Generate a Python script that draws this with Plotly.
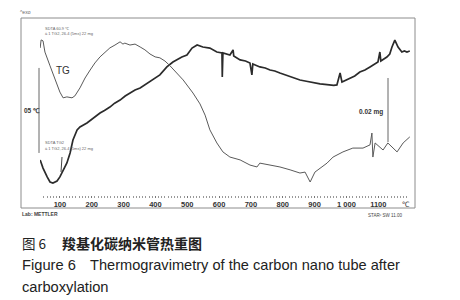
import plotly.graph_objects as go

# ---- data (temperature in degC) ----
sdta_T = [38, 47, 60, 69, 78, 91, 100, 110, 122, 132, 141, 154, 163, 185, 204, 226, 240, 257, 272, 289,
          305, 320, 336, 352, 367, 383, 398, 414, 436, 455, 483, 499, 515, 531, 549, 571, 593, 609, 610,
          612, 634, 644, 646, 666, 683, 697, 703, 706, 728, 745, 760, 775, 791, 808, 823, 838, 854, 870,
          885, 900, 917, 932, 948, 960, 970, 980, 986, 1000, 1011, 1026, 1042, 1058, 1074, 1090, 1099,
          1105, 1108, 1127, 1136, 1143, 1152, 1162, 1174, 1182, 1190, 1199]
sdta_v = [0.224, 0.176, 0.124, 0.094, 0.088, 0.100, 0.124, 0.165, 0.206, 0.265, 0.341, 0.400, 0.418,
          0.441, 0.471, 0.500, 0.515, 0.535, 0.558, 0.576, 0.600, 0.618, 0.635, 0.647, 0.665, 0.682,
          0.700, 0.724, 0.771, 0.800, 0.829, 0.841, 0.882, 0.900, 0.888, 0.882, 0.859, 0.853, 0.712,
          0.853, 0.841, 0.871, 0.835, 0.812, 0.806, 0.794, 0.724, 0.788, 0.771, 0.765, 0.753, 0.747,
          0.735, 0.724, 0.712, 0.706, 0.694, 0.688, 0.682, 0.676, 0.671, 0.668, 0.665, 0.662, 0.665,
          0.735, 0.682, 0.694, 0.706, 0.718, 0.741, 0.753, 0.771, 0.788, 0.800, 0.859, 0.806, 0.829,
          0.847, 0.888, 0.929, 0.888, 0.859, 0.865, 0.859, 0.865]

tg_T = [38, 41, 47, 53, 69, 85, 100, 110, 122, 138, 147, 163, 179, 195, 210, 226, 242, 257, 273, 289,
        298, 304, 320, 336, 352, 367, 383, 399, 414, 430, 446, 462, 487, 518, 540, 556, 571, 593, 612,
        634, 666, 697, 719, 728, 760, 791, 823, 854, 870, 886, 901, 917, 939, 958, 989, 1020, 1052,
        1074, 1080, 1083, 1090, 1115, 1130, 1159, 1178, 1199]
tg_v = [0.0469, 0.0494, 0.0491, 0.0456, 0.0413, 0.0369, 0.0331, 0.0313, 0.0316, 0.0313, 0.0319,
        0.0344, 0.0375, 0.0400, 0.0422, 0.0441, 0.0456, 0.0469, 0.0478, 0.0488, 0.0481, 0.0484,
        0.0478, 0.0481, 0.0472, 0.0463, 0.0450, 0.0441, 0.0438, 0.0428, 0.0413, 0.0397, 0.0369,
        0.0328, 0.0294, 0.0259, 0.0213, 0.0172, 0.0144, 0.0128, 0.0119, 0.0103, 0.0097, 0.0109,
        0.0103, 0.0097, 0.0088, 0.0078, 0.0081, 0.0050, 0.0081, 0.0094, 0.0109, 0.0128, 0.0144,
        0.0156, 0.0156, 0.0166, 0.0203, 0.0128, 0.0172, 0.0150, 0.0172, 0.0144, 0.0172, 0.0191]

tick_vals = [100, 200, 300, 400, 500, 600, 700, 800, 900, 1000, 1100]
tick_text = ["100", "200", "300", "400", "500", "600", "700", "800", "900", "1 000", "1100"]

sdta_bar = [0.265, 0.765]   # 0.5 degC scale bar
tg_bar = [0.0175, 0.0375]   # 0.02 mg scale bar

# ---- layout geometry ----
W, H = 460, 300
L, R, T, B = 40, 50, 18, 102


def px(x):
    return (x - L) / (W - L - R)


def py(y):
    return (H - B - y) / (H - T - B)


fig = go.Figure()
fig.add_trace(go.Scatter(x=sdta_T, y=sdta_v, mode="lines", yaxis="y",
                         line=dict(color="#2b2b2b", width=1.7), showlegend=False))
fig.add_trace(go.Scatter(x=tg_T, y=tg_v, mode="lines", yaxis="y2",
                         line=dict(color="#5a5a5a", width=1.0), showlegend=False))

ann = []


def text(s, x, y, size, anchor="left", color="#333", bold=False, fam="Liberation Sans"):
    ann.append(dict(text=("<b>%s</b>" % s) if bold else s, x=px(x), y=py(y), xref="paper", yref="paper",
                    xanchor=anchor, yanchor="middle", showarrow=False,
                    font=dict(size=size, color=color, family=fam)))


text("^exo", 18, 12, 5, color="#666")
text("SDTA 60.9 ℃", 43, 28, 4, color="#666")
text("ä 1 TG2, 26.4 (5ms) 22 mg", 43, 33, 4, color="#666")
text("TG", 54, 70, 10, color="#333")
text("05 ℃", 22, 110, 6.5, color="#333", bold=True)
text("SDTA TG2", 43, 142, 4, color="#666")
text("ä 1 TG2, 26.4 (5ms) 22 mg", 43, 148, 4, color="#666")
text("0.02 mg", 357, 112, 6.5, color="#333", bold=True)
text("℃", 406, 204, 7.5, anchor="center", color="#333")
text("Lab: METTLER", 20, 214, 5, color="#444", bold=True)
text("STARᵉ SW 11.00", 366, 215, 4.5, color="#444")
text("图 6", 20, 243, 13.5, color="#222", fam="Noto Sans CJK SC")
text("羧基化碳纳米管热重图", 60, 243, 14, color="#222", fam="Noto Sans CJK SC", bold=True)
text("Figure 6", 20, 265, 14.7, color="#222")
text("Thermogravimetry of the carbon nano tube after", 88, 265, 14.6, color="#222")
text("carboxylation", 20, 287, 14.7, color="#222")

shapes = [
    dict(type="rect", xref="paper", yref="paper", x0=px(21), x1=px(415), y0=py(208), y1=py(18),
         line=dict(color="#8c8c8c", width=1)),
    dict(type="line", xref="paper", yref="y", x0=px(39), x1=px(39), y0=sdta_bar[0], y1=sdta_bar[1],
         line=dict(color="#666", width=1)),
    dict(type="line", xref="paper", yref="y2", x0=px(388), x1=px(388), y0=tg_bar[0], y1=tg_bar[1],
         line=dict(color="#666", width=1)),
    dict(type="line", xref="paper", yref="paper", x0=px(62), x1=px(61), y0=py(157), y1=py(172),
         line=dict(color="#444", width=1)),
]

fig.update_layout(
    width=W, height=H, margin=dict(l=L, r=R, t=T, b=B),
    paper_bgcolor="white", plot_bgcolor="white",
    xaxis=dict(range=[37.5, 1199.6], showgrid=False, zeroline=False, showline=False,
               tickvals=tick_vals, ticktext=["<b>%s</b>" % t for t in tick_text],
               ticks="inside", ticklen=2, tickcolor="#777", tickwidth=1,
               tickfont=dict(size=7.5, color="#333", family="Liberation Sans"),
               minor=dict(dtick=10, ticks="inside", ticklen=2, tickcolor="#999", showgrid=False)),
    yaxis=dict(range=[0, 180 / 170], visible=False, fixedrange=True),
    yaxis2=dict(range=[0, 180 * 0.0003125], visible=False, overlaying="y", side="right"),
    annotations=ann, shapes=shapes, showlegend=False,
)
fig.write_html("out.html", config={"displayModeBar": False},
               post_script="document.body.style.margin='0';document.body.style.overflow='hidden';")
